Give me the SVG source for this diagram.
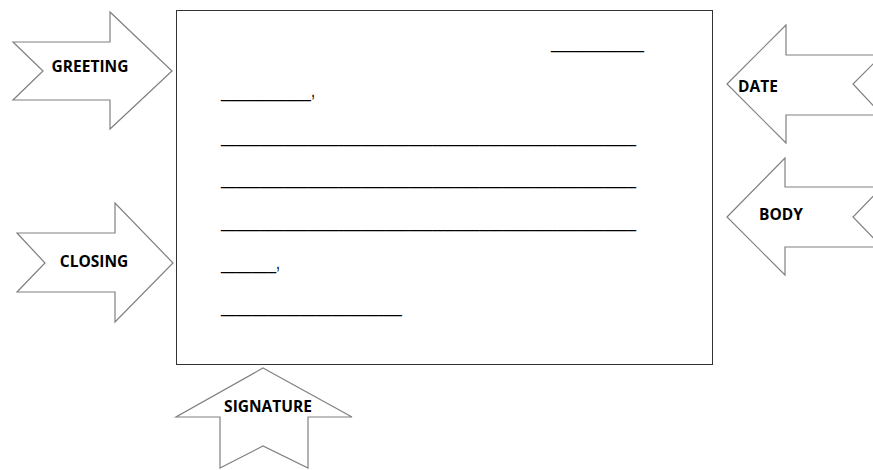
<svg xmlns="http://www.w3.org/2000/svg" width="873" height="470" viewBox="0 0 873 470">
<style>
.arrow{fill:#fff;stroke:#808080;stroke-width:1.2;stroke-linejoin:miter}
.lbl{font-family:"Open Sans","Liberation Sans",sans-serif;font-weight:bold;font-size:15.5px;fill:#000;text-anchor:middle}
.ln{font-family:"Liberation Sans",Arial,sans-serif;font-size:20px;fill:#000}
</style>
<rect width="873" height="470" fill="#fff"/>
<g id="letter">
<rect x="176.5" y="10.5" width="536" height="354" fill="#fff" stroke="#333" stroke-width="1"/>
<text class="ln" x="551" y="48" textLength="93" lengthAdjust="spacingAndGlyphs">____________</text>
<text class="ln" x="221" y="97" textLength="94" lengthAdjust="spacingAndGlyphs">___________,</text>
<text class="ln" x="221" y="142" textLength="415" lengthAdjust="spacingAndGlyphs">_____________________________________________________</text>
<text class="ln" x="221" y="184" textLength="415" lengthAdjust="spacingAndGlyphs">_____________________________________________________</text>
<text class="ln" x="221" y="227" textLength="415" lengthAdjust="spacingAndGlyphs">_____________________________________________________</text>
<text class="ln" x="221" y="269" textLength="59" lengthAdjust="spacingAndGlyphs">_______,</text>
<text class="ln" x="221" y="312" textLength="181" lengthAdjust="spacingAndGlyphs">_______________________</text>
</g>
<g id="greeting">
<path class="arrow" d="M13,42 L110,42 L110,12 L172,71 L110,129 L110,100 L13,100 L43,71 Z"/>
<text class="lbl" x="90" y="72">GREETING</text>
</g>
<g id="closing">
<path class="arrow" d="M17,233 L115,233 L115,203 L173,263 L115,322 L115,292 L17,292 L45,263 Z"/>
<text class="lbl" x="94" y="267">CLOSING</text>
</g>
<g id="date">
<path class="arrow" d="M727,84 L786,25 L786,55 L882,55 L853,84 L882,115 L786,115 L786,143 Z"/>
<text class="lbl" x="758" y="92">DATE</text>
</g>
<g id="body">
<path class="arrow" d="M727,217 L785,158 L785,187 L882,187 L853,217 L882,247 L785,247 L785,275 Z"/>
<text class="lbl" x="781" y="220">BODY</text>
</g>
<g id="signature">
<path class="arrow" d="M263,368 L352,417 L308,417 L308,468 L263,446 L220,468 L220,417 L176,417 Z"/>
<text class="lbl" x="268" y="412">SIGNATURE</text>
</g>
<g id="connectors"></g>
</svg>
